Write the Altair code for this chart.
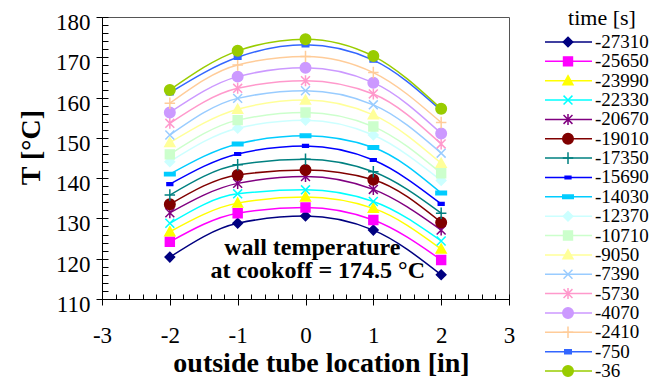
import altair as alt
import pandas as pd

# ---------------- data ----------------
x_positions = [-2, -1, 0, 1, 2]

times = ["-27310", "-25650", "-23990", "-22330", "-20670", "-19010", "-17350",
         "-15690", "-14030", "-12370", "-10710", "-9050", "-7390", "-5730",
         "-4070", "-2410", "-750", "-36"]

T_values = [
    [120.4, 128.8, 130.6, 127.1, 116.0],
    [124.2, 131.3, 132.7, 129.6, 119.7],
    [126.7, 133.8, 135.3, 132.5, 122.4],
    [128.8, 136.1, 137.1, 134.2, 124.4],
    [131.4, 138.7, 140.4, 137.2, 127.1],
    [133.5, 140.8, 142.0, 139.6, 129.0],
    [135.8, 143.3, 144.7, 141.6, 131.3],
    [138.5, 146.0, 148.0, 144.5, 133.6],
    [141.0, 148.5, 150.5, 147.6, 136.3],
    [144.1, 152.4, 154.4, 150.7, 139.4],
    [145.9, 154.4, 156.3, 152.8, 141.2],
    [148.8, 157.1, 159.4, 155.7, 143.7],
    [150.7, 159.8, 161.7, 158.2, 146.2],
    [153.6, 162.3, 164.2, 160.9, 148.5],
    [156.3, 165.2, 167.4, 163.7, 151.1],
    [158.6, 168.1, 170.2, 166.2, 153.8],
    [161.2, 170.0, 173.1, 169.3, 156.8],
    [161.9, 171.6, 174.5, 170.3, 157.2],
]

colors = ["#000080", "#FF00FF", "#FFFF00", "#00FFFF", "#800080", "#800000",
          "#008080", "#0000FF", "#00CCFF", "#CCFFFF", "#CCFFCC", "#FFFF99",
          "#99CCFF", "#FF99CC", "#CC99FF", "#FFCC99", "#3366FF", "#99CC00"]

DIAMOND = "M0,-0.9L0.9,0L0,0.9L-0.9,0Z"
SQUARE = "M-0.85,-0.85H0.85V0.85H-0.85Z"
TRIANGLE = "M0,-0.95L0.95,0.75H-0.95Z"
XMARK = "M-0.85,-0.85L0.85,0.85M-0.85,0.85L0.85,-0.85"
ASTER = "M-0.85,-0.85L0.85,0.85M-0.85,0.85L0.85,-0.85M0,-1.05V1.05"
CIRCLE = "M1,0A1,1,0,1,1,-1,0A1,1,0,1,1,1,0Z"
PLUS = "M-1,0H1M0,-1.1V1.1"
BAR_SMALL = "M-0.55,-0.25H0.55V0.25H-0.55Z"
BAR_WIDE = "M-1,-0.33H1V0.33H-1Z"
BAR_MID = "M-0.62,-0.38H0.62V0.38H-0.62Z"

shapes = [DIAMOND, SQUARE, TRIANGLE, XMARK, ASTER, CIRCLE, PLUS, BAR_SMALL,
          BAR_WIDE, DIAMOND, SQUARE, TRIANGLE, XMARK, ASTER, CIRCLE, PLUS,
          BAR_MID, CIRCLE]

annotation_lines = ["wall temperature", "at cookoff = 174.5 °C"]
annotation_x = [0.10, 0.18]
annotation_T = [121.0, 115.1]

legend_title = ["time [s]"]

x_major_ticks = [-3, -2, -1, 0, 1, 2, 3]
x_minor_ticks = [round(-3 + 0.2 * i, 1) for i in range(31)]
y_major_ticks = list(range(110, 181, 10))
y_minor_ticks = list(range(110, 181, 2))

# ---------------- tables ----------------
rows = []
for i, (t, vals) in enumerate(zip(times, T_values)):
    for x, T in zip(x_positions, vals):
        rows.append({"x": x, "T": T, "time": t, "order": i})
df = pd.DataFrame(rows)
legend_df = pd.DataFrame({"time": times, "order": list(range(len(times)))})
ann_df = pd.DataFrame({"x": annotation_x, "T": annotation_T, "text": annotation_lines})
title_df = pd.DataFrame({"t": legend_title})

FONT = "Liberation Serif"

xscale = alt.Scale(domain=[-3, 3], nice=False, zero=False)
yscale = alt.Scale(domain=[110, 180], nice=False, zero=False)
cscale = alt.Scale(domain=times, range=colors)
sscale = alt.Scale(domain=times, range=shapes)
lscale = alt.Scale(type="point", domain=times, range=[25, 354], padding=0)

x_major = alt.Axis(values=x_major_ticks, orient="bottom", tickSize=6,
                   labelFont=FONT, labelFontSize=23, labelPadding=19,
                   labelFlush=False, labelOverlap=False,
                   labelExpr="'' + datum.value",
                   title="outside tube location [in]", titleFont=FONT,
                   titleFontSize=28, titleFontWeight="bold", titleX=219,
                   titleY=72.5, titleBaseline="alphabetic", titleAlign="center")
x_minor = alt.Axis(values=x_minor_ticks, orient="bottom", labels=False,
                   domain=False, tickSize={"expr": "-5"}, title=None)
y_major = alt.Axis(values=y_major_ticks, orient="left", tickSize=6,
                   labelFont=FONT, labelFontSize=23, labelPadding=6,
                   labelOffset=5.5, labelFlush=False, labelOverlap=False,
                   labelExpr="'' + datum.value",
                   title="T [°C]", titleFont=FONT,
                   titleFontSize=28, titleFontWeight="bold", titleX=-62.5,
                   titleY=130, titleAngle=270, titleBaseline="alphabetic",
                   titleAlign="center")
y_minor = alt.Axis(values=y_minor_ticks, orient="left", labels=False,
                   domain=False, tickSize={"expr": "-6"}, title=None)

lines = alt.Chart(df).mark_line(interpolate="monotone", strokeWidth=1.5).encode(
    x=alt.X("x:Q", scale=xscale, axis=x_major),
    y=alt.Y("T:Q", scale=yscale, axis=y_major),
    color=alt.Color("time:N", scale=cscale, legend=None),
    order=alt.Order("x:Q"),
)

points = alt.Chart(df).mark_point(filled=True, size=110, opacity=1, strokeWidth=1.5).encode(
    x=alt.X("x:Q", scale=xscale, axis=x_minor),
    y=alt.Y("T:Q", scale=yscale, axis=y_minor),
    fill=alt.Fill("time:N", scale=cscale, legend=None),
    stroke=alt.Stroke("time:N", scale=cscale, legend=None),
    shape=alt.Shape("time:N", scale=sscale, legend=None),
)

ann = alt.Chart(ann_df).mark_text(font=FONT, fontSize=24, fontWeight="bold",
                                  align="center", baseline="alphabetic",
                                  color="black").encode(
    x=alt.X("x:Q", scale=xscale, axis=None),
    y=alt.Y("T:Q", scale=yscale, axis=None),
    text="text:N",
)

main = alt.layer(lines, points, ann).resolve_axis(x="independent", y="independent")

leg_lines = alt.Chart(legend_df).mark_rule(strokeWidth=1.5).encode(
    x=alt.value(443), x2=alt.value(490),
    y=alt.Y("time:N", scale=lscale, axis=None),
    color=alt.Color("time:N", scale=cscale, legend=None),
)
leg_points = alt.Chart(legend_df).mark_point(filled=True, size=110, opacity=1, strokeWidth=1.5).encode(
    x=alt.value(466),
    y=alt.Y("time:N", scale=lscale, axis=None),
    fill=alt.Fill("time:N", scale=cscale, legend=None),
    stroke=alt.Stroke("time:N", scale=cscale, legend=None),
    shape=alt.Shape("time:N", scale=sscale, legend=None),
)
leg_text = alt.Chart(legend_df).mark_text(font=FONT, fontSize=19, align="left",
                                          baseline="middle",
                                          color="black").encode(
    x=alt.value(493),
    y=alt.Y("time:N", scale=lscale, axis=None),
    text="time:N",
)
leg_title = alt.Chart(title_df).mark_text(font=FONT, fontSize=22, align="center",
                                          baseline="alphabetic",
                                          color="black").encode(
    x=alt.value(500), y=alt.value(7.5), text="t:N",
)

legend = alt.layer(leg_lines, leg_points, leg_text, leg_title)

chart = alt.layer(main, legend).resolve_scale(y="independent").properties(
    width=407, height=282,
    autosize=alt.AutoSizeParams(type="none"),
    padding={"left": 102, "top": 17, "right": 153, "bottom": 82},
).configure_view(stroke="#555555", strokeWidth=1).configure_axis(
    domainColor="black", tickColor="black", labelColor="black",
    titleColor="black", grid=False, domainWidth=1, tickWidth=1,
)

chart.save("out.html", embed_options={"renderer": "svg", "actions": False})
